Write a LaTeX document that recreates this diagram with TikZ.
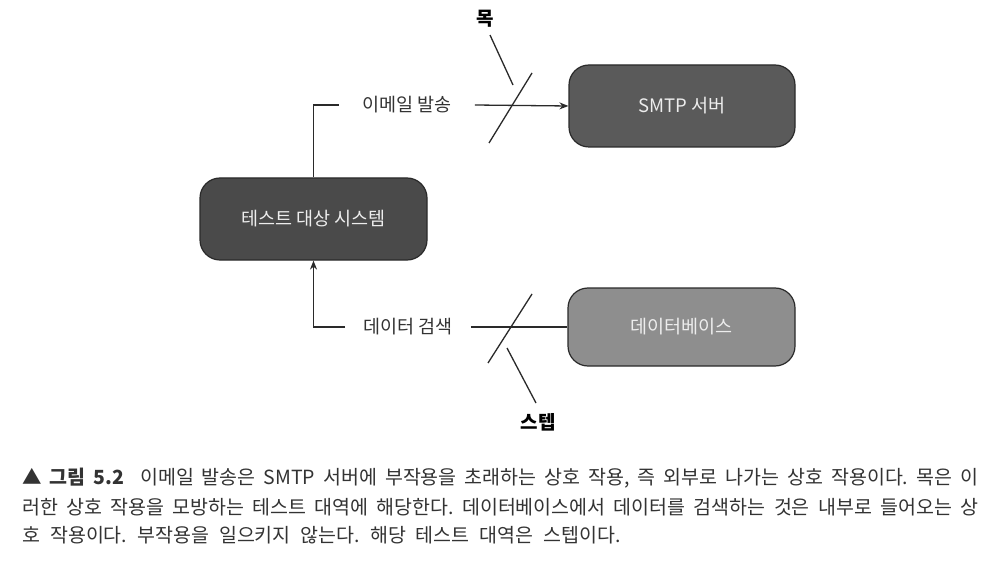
\documentclass[tikz,border=0pt]{standalone}
\usepackage{fontspec}
\setmainfont{Noto Sans CJK KR}
\usetikzlibrary{arrows.meta}
\frenchspacing
\definecolor{sutfill}{HTML}{4A4A4A}
\definecolor{smtpfill}{HTML}{5A5A5A}
\definecolor{dbfill}{HTML}{8E8E8E}
\definecolor{edge}{HTML}{2A2A2A}
\definecolor{txt}{HTML}{333333}
\definecolor{boxtxt}{HTML}{EDEDED}
\newcommand{\mycapfont}{\fontsize{19.5}{22}\selectfont\spaceskip=10pt plus 5pt minus 6pt\relax}
\tikzset{
  box/.style={draw=edge, line width=1.2pt, rounded corners=20pt, text=boxtxt,
    font=\fontsize{18.5}{22}\selectfont, inner sep=0pt},
  lbl/.style={text=txt, font=\fontsize{18.5}{22}\selectfont, inner ysep=0pt},
  tag/.style={text=black, font=\fontsize{19}{22}\selectfont\bfseries, inner sep=1pt},
  conn/.style={draw=edge, line width=1.3pt},
  tip/.style={-{Stealth[length=9pt,width=7pt]}},
  captext/.style={text=txt, font=\mycapfont, anchor=west, inner sep=0pt}
}
\begin{document}
\begin{tikzpicture}[x=1pt,y=-1pt]
\useasboundingbox[fill=white] (0,0) rectangle (1003,577);

% boxes
\node[box, fill=sutfill, minimum width=227pt, minimum height=82pt] (sut) at (313.5,219) {테스트 대상 시스템};
\node[box, fill=smtpfill, minimum width=226pt, minimum height=82pt] (smtp) at (682,106) {SMTP 서버};
\node[box, fill=dbfill, minimum width=227pt, minimum height=78pt] (db) at (681.5,327) {데이터베이스};

% labels
\node[lbl, inner xsep=23pt] (email) at (407,105) {이메일 발송};
\node[lbl, inner xsep=18pt] (fetch) at (408,327) {데이터 검색};

% connectors
\draw[conn] (sut.north) |- (email.west);
\draw[conn, tip] (email.east) -- (smtp.west);
\draw[conn, tip] (fetch.west) -| (sut.south);
\draw[conn] (fetch.east) -- (db.west);

% slashes
\coordinate (s1a) at (489,143);
\coordinate (s1b) at (532,73);
\coordinate (s2a) at (488,363);
\coordinate (s2b) at (532,294);
\draw[conn] (s1a) -- (s1b);
\draw[conn] (s2a) -- (s2b);

% tags and pointers
\node[tag] (mock) at (485,19) {목};
\node[tag] (stub) at (538,422) {스텝};
\coordinate (p1a) at (490,35);
\coordinate (p1b) at (513,85);
\coordinate (p2a) at (507,348);
\coordinate (p2b) at (536,403);
\draw[conn] (p1a) -- (p1b);
\draw[conn] (p2a) -- (p2b);

% caption
\node[captext] (c1) at (22,478) {\makebox[956pt][s]{▲ \textbf{그림 5.2} \ 이메일 발송은 SMTP 서버에 부작용을 초래하는 상호 작용, 즉 외부로 나가는 상호 작용이다. 목은 이}};
\node[captext] (c2) at (22,507) {\makebox[956pt][s]{러한 상호 작용을 모방하는 테스트 대역에 해당한다. 데이터베이스에서 데이터를 검색하는 것은 내부로 들어오는 상}};
\node[captext] (c3) at (22,535) {호 작용이다. 부작용을 일으키지 않는다. 해당 테스트 대역은 스텝이다.};
\end{tikzpicture}
\end{document}
